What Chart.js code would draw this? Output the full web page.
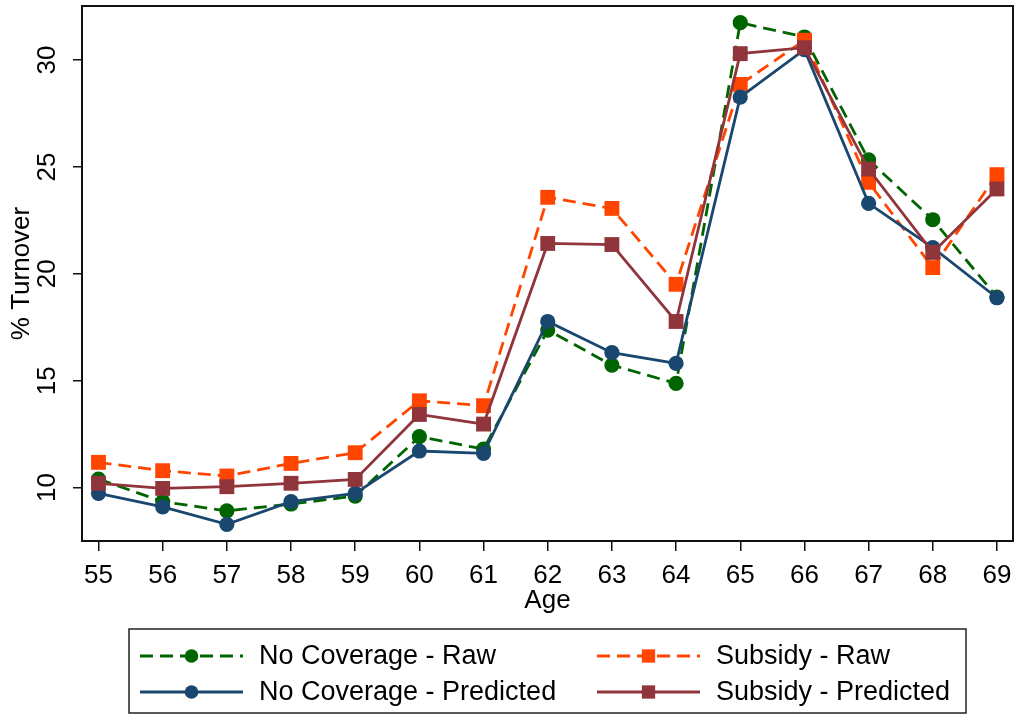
<!DOCTYPE html>
<html>
<head>
<meta charset="utf-8">
<script src="https://cdn.jsdelivr.net/npm/chart.js@4"></script>
<style>
    html, body { margin: 0; padding: 0; background: #ffffff; }
    #wrap { width: 1016px; height: 717px; }
</style>
</head>
<body>
<div id="wrap"><canvas id="turnoverChart" width="1016" height="717"></canvas></div>
<script>
// Ages on the x axis and tick values on the y axis
const ages = [55, 56, 57, 58, 59, 60, 61, 62, 63, 64, 65, 66, 67, 68, 69];
const yTicks = [10, 15, 20, 25, 30];

// % turnover by age
const noCoverageRaw  = [10.4, 9.34, 8.91, 9.23, 9.6, 12.38, 11.8, 17.37, 15.73, 14.87, 31.75, 31.08, 25.33, 22.53, 18.91];
const subsidyRaw     = [11.18, 10.79, 10.54, 11.13, 11.63, 14.06, 13.83, 23.58, 23.06, 19.51, 28.86, 30.93, 24.28, 20.29, 24.64];
const noCoveragePred = [9.73, 9.1, 8.28, 9.34, 9.73, 11.71, 11.6, 17.77, 16.31, 15.81, 28.27, 30.49, 23.3, 21.23, 18.88];
const subsidyPred    = [10.2, 9.96, 10.04, 10.2, 10.38, 13.42, 12.97, 21.42, 21.37, 17.77, 30.3, 30.58, 24.9, 21.0, 23.97];

const labels = ['No Coverage - Raw', 'Subsidy - Raw', 'No Coverage - Predicted', 'Subsidy - Predicted'];

const FONT = "'Liberation Sans', Arial, Helvetica, sans-serif";

function toPoints(values) {
    return ages.map((a, i) => ({ x: a, y: values[i] }));
}

function makeSeries(label, values, color, dashed, shape, order) {
    const r = shape === 'rect' ? 10.5 : 7.6;
    return {
        label: label,
        data: toPoints(values),
        borderColor: color,
        backgroundColor: color,
        borderWidth: 2.8,
        borderDash: dashed ? [13, 7] : [],
        tension: 0,
        pointStyle: shape,
        pointRadius: r,
        pointBackgroundColor: color,
        pointBorderWidth: 0,
        pointHoverRadius: r,
        order: order
    };
}

// Frame round the plot region
const frameBox = {
    id: 'frameBox',
    beforeDatasetsDraw(chart) {
        const { ctx, chartArea: a } = chart;
        ctx.save();
        ctx.strokeStyle = '#111';
        ctx.lineWidth = 2;
        ctx.strokeRect(a.left, a.top, a.right - a.left, a.bottom - a.top);
        ctx.restore();
    }
};

// Tick labels: vertical on y, plain on x, placed from the scales' own ticks
const tickLabels = {
    id: 'tickLabels',
    afterDraw(chart) {
        const { ctx } = chart;
        const xs = chart.scales.x;
        const ys = chart.scales.y;
        ctx.save();
        ctx.fillStyle = '#000';
        ctx.font = '26px ' + FONT;
        ctx.textAlign = 'center';
        ctx.textBaseline = 'alphabetic';
        ys.ticks.forEach(t => {
            const py = ys.getPixelForValue(t.value);
            ctx.save();
            ctx.translate(55, py);
            ctx.rotate(-Math.PI / 2);
            ctx.fillText(String(t.value), 0, 0);
            ctx.restore();
        });
        xs.ticks.forEach(t => {
            ctx.fillText(String(t.value), xs.getPixelForValue(t.value), 583);
        });
        ctx.restore();
    }
};

// Boxed legend below the plot, two columns
const boxLegend = {
    id: 'boxLegend',
    afterDraw(chart) {
        const { ctx } = chart;
        const box = { left: 129, top: 629, right: 966, bottom: 713 };
        const colX = [140, 597];
        const rowY = [656, 692];
        const symLen = 103;

        ctx.save();
        ctx.strokeStyle = '#222';
        ctx.lineWidth = 1.5;
        ctx.strokeRect(box.left, box.top, box.right - box.left, box.bottom - box.top);

        chart.data.datasets.forEach((ds, i) => {
            const x0 = colX[i % 2];
            const yy = rowY[Math.floor(i / 2)];
            ctx.save();
            ctx.strokeStyle = ds.borderColor;
            ctx.fillStyle = ds.pointBackgroundColor;
            ctx.lineWidth = ds.borderWidth;
            ctx.setLineDash(ds.borderDash);
            ctx.beginPath();
            ctx.moveTo(x0, yy);
            ctx.lineTo(x0 + symLen, yy);
            ctx.stroke();
            ctx.setLineDash([]);
            Chart.helpers.drawPoint(ctx, {
                pointStyle: ds.pointStyle,
                radius: ds.pointStyle === 'rect' ? 9.4 : 6.8,
                borderWidth: 0,
                rotation: 0
            }, x0 + symLen / 2, yy);
            ctx.restore();

            ctx.fillStyle = '#000';
            ctx.font = '27px ' + FONT;
            ctx.textAlign = 'left';
            ctx.textBaseline = 'middle';
            ctx.fillText(ds.label, x0 + 119, yy + 1);
        });
        ctx.restore();
    }
};

const ctx = document.getElementById('turnoverChart').getContext('2d');
new Chart(ctx, {
    type: 'line',
    data: {
        datasets: [
            makeSeries(labels[0], noCoverageRaw, '#006400', true, 'circle', 4),
            makeSeries(labels[1], subsidyRaw, '#ff4500', true, 'rect', 3),
            makeSeries(labels[2], noCoveragePred, '#1a476f', false, 'circle', 2),
            makeSeries(labels[3], subsidyPred, '#90353b', false, 'rect', 1)
        ]
    },
    options: {
        responsive: false,
        animation: false,
        devicePixelRatio: 1,
        layout: { autoPadding: false, padding: { top: 6, right: 3, left: 0, bottom: 0 } },
        plugins: {
            legend: { display: false },
            tooltip: { enabled: false }
        },
        scales: {
            x: {
                type: 'linear',
                min: 54.743,
                max: 69.25,
                afterBuildTicks: (scale) => { scale.ticks = ages.map(v => ({ value: v })); },
                afterFit: (scale) => { scale.height = 176; },
                border: { display: false },
                grid: { drawOnChartArea: false, drawTicks: true, tickLength: 10, color: '#111', lineWidth: 1.5 },
                ticks: { display: false },
                title: { display: true, text: 'Age', color: '#000', font: { family: FONT, size: 26 }, padding: { top: 0, bottom: 101 } }
            },
            y: {
                type: 'linear',
                min: 7.5,
                max: 32.53,
                afterBuildTicks: (scale) => { scale.ticks = yTicks.map(v => ({ value: v })); },
                afterFit: (scale) => { scale.width = 82; },
                border: { display: false },
                grid: { drawOnChartArea: false, drawTicks: true, tickLength: 9, color: '#111', lineWidth: 1.5 },
                ticks: { display: false },
                title: { display: true, text: '% Turnover', color: '#000', font: { family: FONT, size: 26 }, padding: { top: 6, bottom: 0 } }
            }
        }
    },
    plugins: [frameBox, tickLabels, boxLegend]
});
</script>
</body>
</html>
